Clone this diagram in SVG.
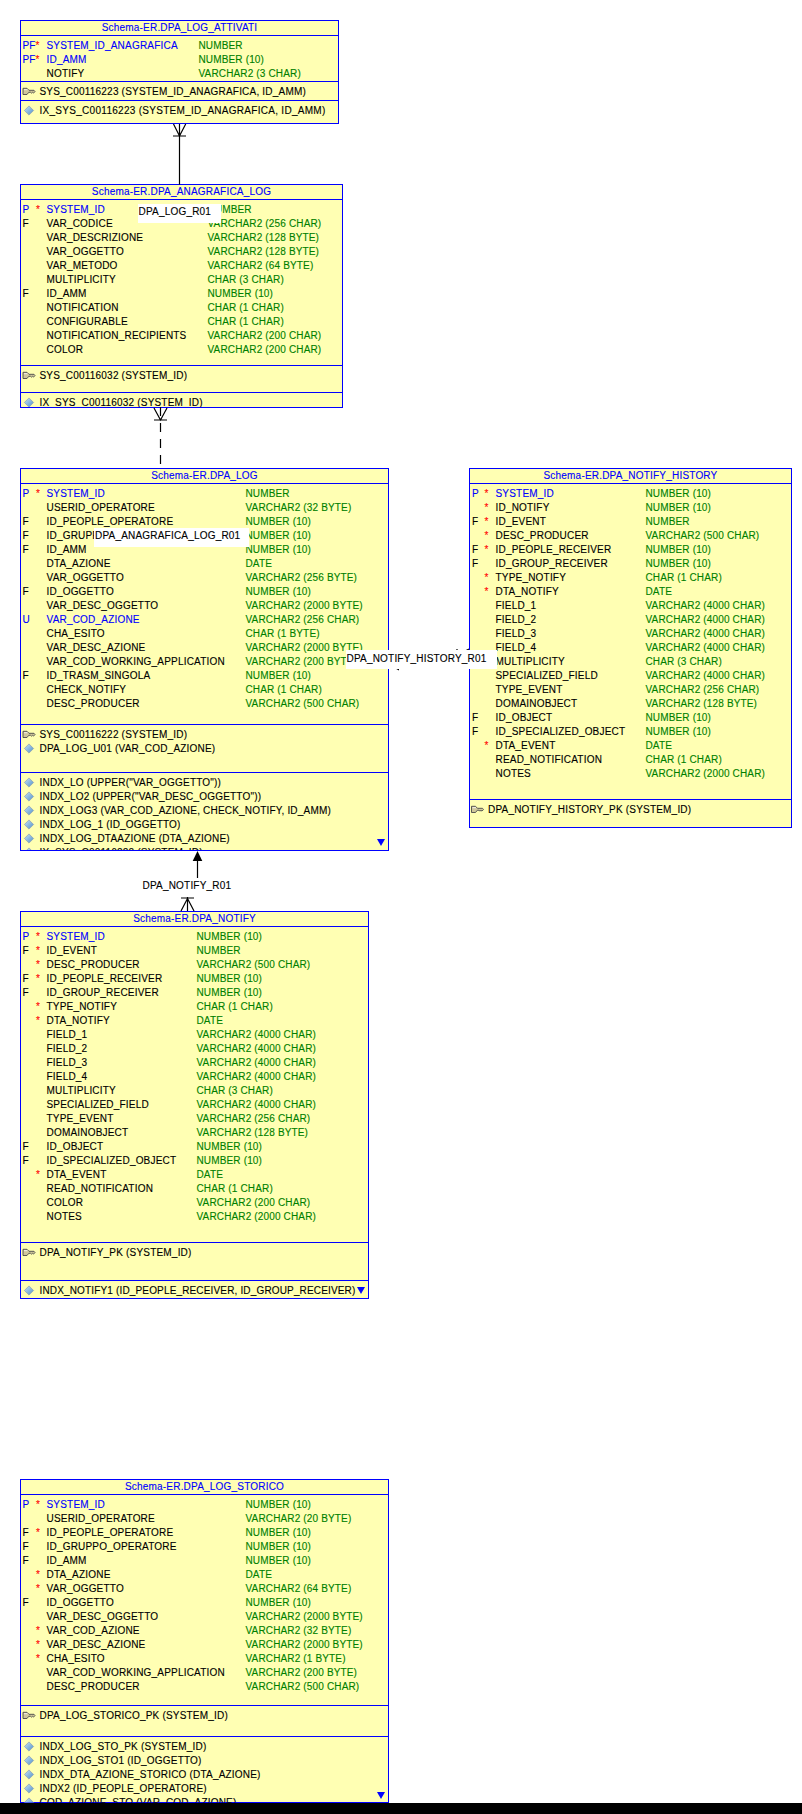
<svg xmlns="http://www.w3.org/2000/svg" width="802" height="1814" viewBox="0 0 802 1814">
<style>
text{font-family:"Liberation Sans",Arial,sans-serif;font-size:10px;letter-spacing:.2px;fill:#000;stroke:#000;stroke-width:.12px}
.h{text-anchor:middle;fill:#00f;stroke:#00f}
.b{fill:#00f;stroke:#00f}
.g{fill:#008000;stroke:#008000;letter-spacing:.15px}
.s{fill:#f00;stroke:#f00}
.box{fill:#ffffb3;stroke:#00f;stroke-width:1}
.sep{stroke:#00f;stroke-width:1;fill:none}
.tri{fill:#00f}
.c{stroke:#000;stroke-width:1.2;fill:none}
.lb{fill:#fff}
</style>
<defs>
<linearGradient id="dg" x1="0" y1="0" x2="1" y2="1"><stop offset="0" stop-color="#c8e4f8"/><stop offset="1" stop-color="#4f8fc8"/></linearGradient>
<g id="key"><path d="M.5-3.2H4.5L6.5-1.2H11.5L12.5 0 11 1.6 10 .8 9 1.6 8 .8H6.3L4.5 3H.5z" fill="#cfc79a" stroke="#4a4a4a" stroke-width=".9"/><path d="M1.5-1.8H5" stroke="#fff" stroke-width=".8" fill="none"/></g>
<path id="dia" d="M0-4.6L4.6 0 0 4.6-4.6 0z" fill="url(#dg)" stroke="#8a9cb0" stroke-width=".7"/>
<path id="down" class="tri" d="M-4 0H4L0 7z"/>
<clipPath id="c2"><rect x="20" y="392" width="323" height="15"/></clipPath>
<clipPath id="c3"><rect x="20" y="772" width="369" height="78"/></clipPath>
<clipPath id="c6"><rect x="20" y="1736" width="369" height="66.5"/></clipPath>
</defs>
<rect width="802" height="1814" fill="#fff"/>

<g id="DPA_LOG_ATTIVATI">
<rect class="box" x="20.5" y="20.5" width="318" height="103"/>
<path class="sep" d="M20.5 35.5H338.5M20.5 81.5H338.5M20.5 100.5H338.5"/>
<text class="h" x="179.5" y="31">Schema-ER.DPA_LOG_ATTIVATI</text>
<text class="b" x="22.5" y="49">PF</text><text class="s" x="35.5" y="49">*</text><text class="b" x="46.5" y="49">SYSTEM_ID_ANAGRAFICA</text><text class="g" x="198.5" y="49">NUMBER</text>
<text class="b" x="22.5" y="63">PF</text><text class="s" x="35.5" y="63">*</text><text class="b" x="46.5" y="63">ID_AMM</text><text class="g" x="198.5" y="63">NUMBER (10)</text>
<text x="46.5" y="77">NOTIFY</text><text class="g" x="198.5" y="77">VARCHAR2 (3 CHAR)</text>
<use href="#key" x="22.5" y="91.5"/><text x="39.5" y="95">SYS_C00116223 (SYSTEM_ID_ANAGRAFICA, ID_AMM)</text>
<use href="#dia" x="29" y="110.5"/><text x="39.5" y="114" textLength="286">IX_SYS_C00116223 (SYSTEM_ID_ANAGRAFICA, ID_AMM)</text>
</g>

<g id="DPA_ANAGRAFICA_LOG">
<rect class="box" x="20.5" y="184.5" width="322" height="223"/>
<path class="sep" d="M20.5 199.5H342.5M20.5 365.5H342.5M20.5 392.5H342.5"/>
<text class="h" x="181.5" y="195">Schema-ER.DPA_ANAGRAFICA_LOG</text>
<text class="b" x="22.5" y="213">P</text><text class="s" x="36" y="213">*</text><text class="b" x="46.5" y="213">SYSTEM_ID</text><text class="g" x="207.5" y="213">NUMBER</text>
<text x="22.5" y="227">F</text><text x="46.5" y="227">VAR_CODICE</text><text class="g" x="207.5" y="227">VARCHAR2 (256 CHAR)</text>
<text x="46.5" y="241">VAR_DESCRIZIONE</text><text class="g" x="207.5" y="241">VARCHAR2 (128 BYTE)</text>
<text x="46.5" y="255">VAR_OGGETTO</text><text class="g" x="207.5" y="255">VARCHAR2 (128 BYTE)</text>
<text x="46.5" y="269">VAR_METODO</text><text class="g" x="207.5" y="269">VARCHAR2 (64 BYTE)</text>
<text x="46.5" y="283">MULTIPLICITY</text><text class="g" x="207.5" y="283">CHAR (3 CHAR)</text>
<text x="22.5" y="297">F</text><text x="46.5" y="297">ID_AMM</text><text class="g" x="207.5" y="297">NUMBER (10)</text>
<text x="46.5" y="311">NOTIFICATION</text><text class="g" x="207.5" y="311">CHAR (1 CHAR)</text>
<text x="46.5" y="325">CONFIGURABLE</text><text class="g" x="207.5" y="325">CHAR (1 CHAR)</text>
<text x="46.5" y="339">NOTIFICATION_RECIPIENTS</text><text class="g" x="207.5" y="339">VARCHAR2 (200 CHAR)</text>
<text x="46.5" y="353">COLOR</text><text class="g" x="207.5" y="353">VARCHAR2 (200 CHAR)</text>
<use href="#key" x="22.5" y="375.5"/><text x="39.5" y="379">SYS_C00116032 (SYSTEM_ID)</text>
<g clip-path="url(#c2)"><use href="#dia" x="29" y="402.5"/><text x="39.5" y="406">IX_SYS_C00116032 (SYSTEM_ID)</text></g>
</g>

<g id="DPA_LOG">
<rect class="box" x="20.5" y="468.5" width="368" height="382"/>
<path class="sep" d="M20.5 483.5H388.5M20.5 724.5H388.5M20.5 772.5H388.5"/>
<text class="h" x="204.5" y="479">Schema-ER.DPA_LOG</text>
<text class="b" x="22.5" y="497">P</text><text class="s" x="36" y="497">*</text><text class="b" x="46.5" y="497">SYSTEM_ID</text><text class="g" x="245.5" y="497">NUMBER</text>
<text x="46.5" y="511">USERID_OPERATORE</text><text class="g" x="245.5" y="511">VARCHAR2 (32 BYTE)</text>
<text x="22.5" y="525">F</text><text x="46.5" y="525">ID_PEOPLE_OPERATORE</text><text class="g" x="245.5" y="525">NUMBER (10)</text>
<text x="22.5" y="539">F</text><text x="46.5" y="539">ID_GRUPPO_OPERATORE</text><text class="g" x="245.5" y="539">NUMBER (10)</text>
<text x="22.5" y="553">F</text><text x="46.5" y="553">ID_AMM</text><text class="g" x="245.5" y="553">NUMBER (10)</text>
<text x="46.5" y="567">DTA_AZIONE</text><text class="g" x="245.5" y="567">DATE</text>
<text x="46.5" y="581">VAR_OGGETTO</text><text class="g" x="245.5" y="581">VARCHAR2 (256 BYTE)</text>
<text x="22.5" y="595">F</text><text x="46.5" y="595">ID_OGGETTO</text><text class="g" x="245.5" y="595">NUMBER (10)</text>
<text x="46.5" y="609">VAR_DESC_OGGETTO</text><text class="g" x="245.5" y="609">VARCHAR2 (2000 BYTE)</text>
<text class="b" x="22.5" y="623">U</text><text class="b" x="46.5" y="623">VAR_COD_AZIONE</text><text class="g" x="245.5" y="623">VARCHAR2 (256 CHAR)</text>
<text x="46.5" y="637">CHA_ESITO</text><text class="g" x="245.5" y="637">CHAR (1 BYTE)</text>
<text x="46.5" y="651">VAR_DESC_AZIONE</text><text class="g" x="245.5" y="651">VARCHAR2 (2000 BYTE)</text>
<text x="46.5" y="665">VAR_COD_WORKING_APPLICATION</text><text class="g" x="245.5" y="665">VARCHAR2 (200 BYTE)</text>
<text x="22.5" y="679">F</text><text x="46.5" y="679">ID_TRASM_SINGOLA</text><text class="g" x="245.5" y="679">NUMBER (10)</text>
<text x="46.5" y="693">CHECK_NOTIFY</text><text class="g" x="245.5" y="693">CHAR (1 CHAR)</text>
<text x="46.5" y="707">DESC_PRODUCER</text><text class="g" x="245.5" y="707">VARCHAR2 (500 CHAR)</text>
<use href="#key" x="22.5" y="734.5"/><text x="39.5" y="738">SYS_C00116222 (SYSTEM_ID)</text>
<use href="#dia" x="29" y="748.5"/><text x="39.5" y="752">DPA_LOG_U01 (VAR_COD_AZIONE)</text>
<g clip-path="url(#c3)">
<use href="#dia" x="29" y="782.5"/><text x="39.5" y="786">INDX_LO (UPPER("VAR_OGGETTO"))</text>
<use href="#dia" x="29" y="796.5"/><text x="39.5" y="800">INDX_LO2 (UPPER("VAR_DESC_OGGETTO"))</text>
<use href="#dia" x="29" y="810.5"/><text x="39.5" y="814">INDX_LOG3 (VAR_COD_AZIONE, CHECK_NOTIFY, ID_AMM)</text>
<use href="#dia" x="29" y="824.5"/><text x="39.5" y="828">INDX_LOG_1 (ID_OGGETTO)</text>
<use href="#dia" x="29" y="838.5"/><text x="39.5" y="842">INDX_LOG_DTAAZIONE (DTA_AZIONE)</text>
<use href="#dia" x="29" y="852.5"/><text x="39.5" y="856">IX_SYS_C00116222 (SYSTEM_ID)</text>
</g>
<use href="#down" x="381" y="839"/>
</g>

<g id="DPA_NOTIFY_HISTORY">
<rect class="box" x="469.5" y="468.5" width="322" height="359"/>
<path class="sep" d="M469.5 483.5H791.5M469.5 799.5H791.5"/>
<text class="h" x="630.5" y="479">Schema-ER.DPA_NOTIFY_HISTORY</text>
<text class="b" x="472" y="497">P</text><text class="s" x="484.5" y="497">*</text><text class="b" x="495.5" y="497">SYSTEM_ID</text><text class="g" x="645.5" y="497">NUMBER (10)</text>
<text class="s" x="484.5" y="511">*</text><text x="495.5" y="511">ID_NOTIFY</text><text class="g" x="645.5" y="511">NUMBER (10)</text>
<text x="472" y="525">F</text><text class="s" x="484.5" y="525">*</text><text x="495.5" y="525">ID_EVENT</text><text class="g" x="645.5" y="525">NUMBER</text>
<text class="s" x="484.5" y="539">*</text><text x="495.5" y="539">DESC_PRODUCER</text><text class="g" x="645.5" y="539">VARCHAR2 (500 CHAR)</text>
<text x="472" y="553">F</text><text class="s" x="484.5" y="553">*</text><text x="495.5" y="553">ID_PEOPLE_RECEIVER</text><text class="g" x="645.5" y="553">NUMBER (10)</text>
<text x="472" y="567">F</text><text x="495.5" y="567">ID_GROUP_RECEIVER</text><text class="g" x="645.5" y="567">NUMBER (10)</text>
<text class="s" x="484.5" y="581">*</text><text x="495.5" y="581">TYPE_NOTIFY</text><text class="g" x="645.5" y="581">CHAR (1 CHAR)</text>
<text class="s" x="484.5" y="595">*</text><text x="495.5" y="595">DTA_NOTIFY</text><text class="g" x="645.5" y="595">DATE</text>
<text x="495.5" y="609">FIELD_1</text><text class="g" x="645.5" y="609">VARCHAR2 (4000 CHAR)</text>
<text x="495.5" y="623">FIELD_2</text><text class="g" x="645.5" y="623">VARCHAR2 (4000 CHAR)</text>
<text x="495.5" y="637">FIELD_3</text><text class="g" x="645.5" y="637">VARCHAR2 (4000 CHAR)</text>
<text x="495.5" y="651">FIELD_4</text><text class="g" x="645.5" y="651">VARCHAR2 (4000 CHAR)</text>
<text x="495.5" y="665">MULTIPLICITY</text><text class="g" x="645.5" y="665">CHAR (3 CHAR)</text>
<text x="495.5" y="679">SPECIALIZED_FIELD</text><text class="g" x="645.5" y="679">VARCHAR2 (4000 CHAR)</text>
<text x="495.5" y="693">TYPE_EVENT</text><text class="g" x="645.5" y="693">VARCHAR2 (256 CHAR)</text>
<text x="495.5" y="707">DOMAINOBJECT</text><text class="g" x="645.5" y="707">VARCHAR2 (128 BYTE)</text>
<text x="472" y="721">F</text><text x="495.5" y="721">ID_OBJECT</text><text class="g" x="645.5" y="721">NUMBER (10)</text>
<text x="472" y="735">F</text><text x="495.5" y="735">ID_SPECIALIZED_OBJECT</text><text class="g" x="645.5" y="735">NUMBER (10)</text>
<text class="s" x="484.5" y="749">*</text><text x="495.5" y="749">DTA_EVENT</text><text class="g" x="645.5" y="749">DATE</text>
<text x="495.5" y="763">READ_NOTIFICATION</text><text class="g" x="645.5" y="763">CHAR (1 CHAR)</text>
<text x="495.5" y="777">NOTES</text><text class="g" x="645.5" y="777">VARCHAR2 (2000 CHAR)</text>
<use href="#key" x="471" y="809.5"/><text x="488" y="813">DPA_NOTIFY_HISTORY_PK (SYSTEM_ID)</text>
</g>

<g id="DPA_NOTIFY">
<rect class="box" x="20.5" y="911.5" width="348" height="387"/>
<path class="sep" d="M20.5 926.5H368.5M20.5 1242.5H368.5M20.5 1280.5H368.5"/>
<text class="h" x="194.5" y="922">Schema-ER.DPA_NOTIFY</text>
<text class="b" x="22.5" y="940">P</text><text class="s" x="36" y="940">*</text><text class="b" x="46.5" y="940">SYSTEM_ID</text><text class="g" x="196.5" y="940">NUMBER (10)</text>
<text x="22.5" y="954">F</text><text class="s" x="36" y="954">*</text><text x="46.5" y="954">ID_EVENT</text><text class="g" x="196.5" y="954">NUMBER</text>
<text class="s" x="36" y="968">*</text><text x="46.5" y="968">DESC_PRODUCER</text><text class="g" x="196.5" y="968">VARCHAR2 (500 CHAR)</text>
<text x="22.5" y="982">F</text><text class="s" x="36" y="982">*</text><text x="46.5" y="982">ID_PEOPLE_RECEIVER</text><text class="g" x="196.5" y="982">NUMBER (10)</text>
<text x="22.5" y="996">F</text><text x="46.5" y="996">ID_GROUP_RECEIVER</text><text class="g" x="196.5" y="996">NUMBER (10)</text>
<text class="s" x="36" y="1010">*</text><text x="46.5" y="1010">TYPE_NOTIFY</text><text class="g" x="196.5" y="1010">CHAR (1 CHAR)</text>
<text class="s" x="36" y="1024">*</text><text x="46.5" y="1024">DTA_NOTIFY</text><text class="g" x="196.5" y="1024">DATE</text>
<text x="46.5" y="1038">FIELD_1</text><text class="g" x="196.5" y="1038">VARCHAR2 (4000 CHAR)</text>
<text x="46.5" y="1052">FIELD_2</text><text class="g" x="196.5" y="1052">VARCHAR2 (4000 CHAR)</text>
<text x="46.5" y="1066">FIELD_3</text><text class="g" x="196.5" y="1066">VARCHAR2 (4000 CHAR)</text>
<text x="46.5" y="1080">FIELD_4</text><text class="g" x="196.5" y="1080">VARCHAR2 (4000 CHAR)</text>
<text x="46.5" y="1094">MULTIPLICITY</text><text class="g" x="196.5" y="1094">CHAR (3 CHAR)</text>
<text x="46.5" y="1108">SPECIALIZED_FIELD</text><text class="g" x="196.5" y="1108">VARCHAR2 (4000 CHAR)</text>
<text x="46.5" y="1122">TYPE_EVENT</text><text class="g" x="196.5" y="1122">VARCHAR2 (256 CHAR)</text>
<text x="46.5" y="1136">DOMAINOBJECT</text><text class="g" x="196.5" y="1136">VARCHAR2 (128 BYTE)</text>
<text x="22.5" y="1150">F</text><text x="46.5" y="1150">ID_OBJECT</text><text class="g" x="196.5" y="1150">NUMBER (10)</text>
<text x="22.5" y="1164">F</text><text x="46.5" y="1164">ID_SPECIALIZED_OBJECT</text><text class="g" x="196.5" y="1164">NUMBER (10)</text>
<text class="s" x="36" y="1178">*</text><text x="46.5" y="1178">DTA_EVENT</text><text class="g" x="196.5" y="1178">DATE</text>
<text x="46.5" y="1192">READ_NOTIFICATION</text><text class="g" x="196.5" y="1192">CHAR (1 CHAR)</text>
<text x="46.5" y="1206">COLOR</text><text class="g" x="196.5" y="1206">VARCHAR2 (200 CHAR)</text>
<text x="46.5" y="1220">NOTES</text><text class="g" x="196.5" y="1220">VARCHAR2 (2000 CHAR)</text>
<use href="#key" x="22.5" y="1252.5"/><text x="39.5" y="1256">DPA_NOTIFY_PK (SYSTEM_ID)</text>
<use href="#dia" x="29" y="1290.5"/><text x="39.5" y="1294" textLength="316">INDX_NOTIFY1 (ID_PEOPLE_RECEIVER, ID_GROUP_RECEIVER)</text>
<use href="#down" x="361" y="1287"/>
</g>

<g id="DPA_LOG_STORICO">
<rect class="box" x="20.5" y="1479.5" width="368" height="323"/>
<path class="sep" d="M20.5 1494.5H388.5M20.5 1705.5H388.5M20.5 1736.5H388.5"/>
<text class="h" x="204.5" y="1490">Schema-ER.DPA_LOG_STORICO</text>
<text class="b" x="22.5" y="1508">P</text><text class="s" x="36" y="1508">*</text><text class="b" x="46.5" y="1508">SYSTEM_ID</text><text class="g" x="245.5" y="1508">NUMBER (10)</text>
<text x="46.5" y="1522">USERID_OPERATORE</text><text class="g" x="245.5" y="1522">VARCHAR2 (20 BYTE)</text>
<text x="22.5" y="1536">F</text><text class="s" x="36" y="1536">*</text><text x="46.5" y="1536">ID_PEOPLE_OPERATORE</text><text class="g" x="245.5" y="1536">NUMBER (10)</text>
<text x="22.5" y="1550">F</text><text x="46.5" y="1550">ID_GRUPPO_OPERATORE</text><text class="g" x="245.5" y="1550">NUMBER (10)</text>
<text x="22.5" y="1564">F</text><text x="46.5" y="1564">ID_AMM</text><text class="g" x="245.5" y="1564">NUMBER (10)</text>
<text class="s" x="36" y="1578">*</text><text x="46.5" y="1578">DTA_AZIONE</text><text class="g" x="245.5" y="1578">DATE</text>
<text class="s" x="36" y="1592">*</text><text x="46.5" y="1592">VAR_OGGETTO</text><text class="g" x="245.5" y="1592">VARCHAR2 (64 BYTE)</text>
<text x="22.5" y="1606">F</text><text x="46.5" y="1606">ID_OGGETTO</text><text class="g" x="245.5" y="1606">NUMBER (10)</text>
<text x="46.5" y="1620">VAR_DESC_OGGETTO</text><text class="g" x="245.5" y="1620">VARCHAR2 (2000 BYTE)</text>
<text class="s" x="36" y="1634">*</text><text x="46.5" y="1634">VAR_COD_AZIONE</text><text class="g" x="245.5" y="1634">VARCHAR2 (32 BYTE)</text>
<text class="s" x="36" y="1648">*</text><text x="46.5" y="1648">VAR_DESC_AZIONE</text><text class="g" x="245.5" y="1648">VARCHAR2 (2000 BYTE)</text>
<text class="s" x="36" y="1662">*</text><text x="46.5" y="1662">CHA_ESITO</text><text class="g" x="245.5" y="1662">VARCHAR2 (1 BYTE)</text>
<text x="46.5" y="1676">VAR_COD_WORKING_APPLICATION</text><text class="g" x="245.5" y="1676">VARCHAR2 (200 BYTE)</text>
<text x="46.5" y="1690">DESC_PRODUCER</text><text class="g" x="245.5" y="1690">VARCHAR2 (500 CHAR)</text>
<use href="#key" x="22.5" y="1715.5"/><text x="39.5" y="1719">DPA_LOG_STORICO_PK (SYSTEM_ID)</text>
<g clip-path="url(#c6)">
<use href="#dia" x="29" y="1746.5"/><text x="39.5" y="1750">INDX_LOG_STO_PK (SYSTEM_ID)</text>
<use href="#dia" x="29" y="1760.5"/><text x="39.5" y="1764">INDX_LOG_STO1 (ID_OGGETTO)</text>
<use href="#dia" x="29" y="1774.5"/><text x="39.5" y="1778">INDX_DTA_AZIONE_STORICO (DTA_AZIONE)</text>
<use href="#dia" x="29" y="1788.5"/><text x="39.5" y="1792">INDX2 (ID_PEOPLE_OPERATORE)</text>
<use href="#dia" x="29" y="1802.5"/><text x="39.5" y="1806">COD_AZIONE_STO (VAR_COD_AZIONE)</text>
</g>
<use href="#down" x="381" y="1792"/>
</g>

<rect x="0" y="1803" width="802" height="11" fill="#000"/>

<g id="connectors">
<path class="c" d="M179.5 124V184.5M173.5 124L179.5 136L185.7 124M173 136H186"/>
<path class="c" d="M154 408L160.5 420L167 408M154 420H167"/>
<path class="c" d="M160.5 407V464" stroke-dasharray="9 7"/>
<path class="c" d="M187.5 911V885H197.5V858M181 911L187.5 898.5L194 911M181 898H194"/>
<path d="M197.5 851L202.3 861H192.7z"/>
<path class="c" d="M457 655.5H469M469 649L457 655.5L469 662M457 649V662M399 665H457"/>
<path d="M389 665L399 660V670.5z"/>
<g id="label-DPA_LOG_R01"><rect class="lb" x="138" y="204" width="83" height="19"/><text x="138.5" y="215">DPA_LOG_R01</text></g>
<g id="label-DPA_ANAGRAFICA_LOG_R01"><rect class="lb" x="94" y="528" width="155" height="19"/><text x="95" y="539">DPA_ANAGRAFICA_LOG_R01</text></g>
<g id="label-DPA_NOTIFY_HISTORY_R01"><rect class="lb" x="346" y="650" width="151" height="19"/><text x="346.5" y="661.5">DPA_NOTIFY_HISTORY_R01</text></g>
<g id="label-DPA_NOTIFY_R01"><rect class="lb" x="142" y="878" width="90" height="19"/><text x="142.5" y="889">DPA_NOTIFY_R01</text></g>
</g>
</svg>
